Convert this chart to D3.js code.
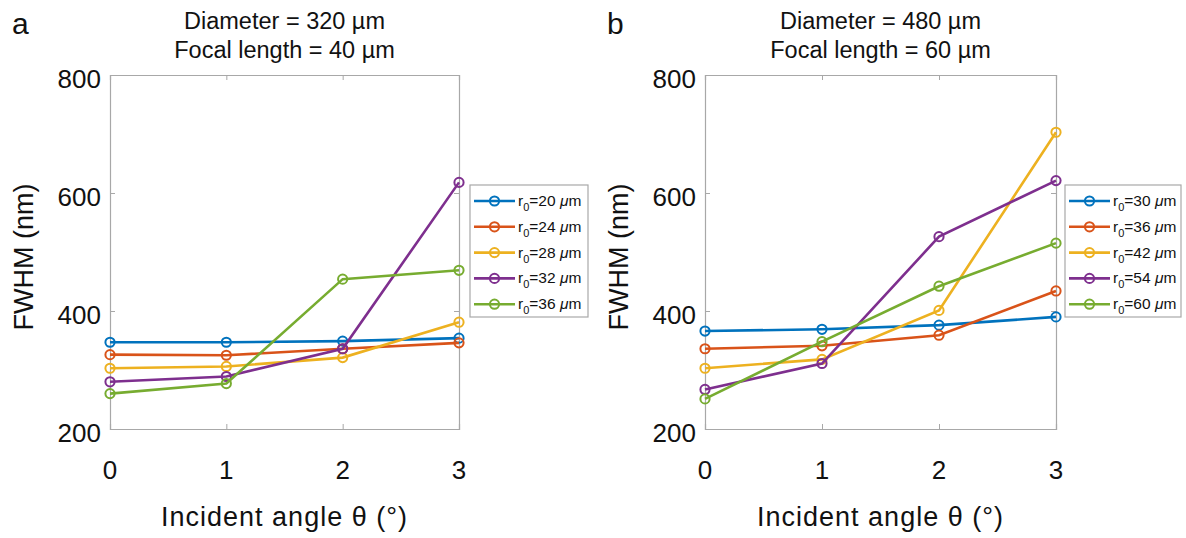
<!DOCTYPE html>
<html>
<head>
<meta charset="utf-8">
<script src="https://cdn.jsdelivr.net/npm/d3@7"></script>
<style>
  html, body { margin: 0; padding: 0; background: #fff; }
  svg { display: block; font-family: "Liberation Sans", Arial, sans-serif; }
</style>
</head>
<body>
<svg id="fig" width="1186" height="538"></svg>
<script>
// Incident angles (degrees)
const angles = [0, 1, 2, 3];
const yTicks = [200, 400, 600, 800];
const xTicks = [0, 1, 2, 3];

// Panel a: Diameter 320 µm, focal length 40 µm
const radiiA = [20, 24, 28, 32, 36];
const fwhmA20 = [347, 347, 349, 354];
const fwhmA24 = [326, 325, 336, 346];
const fwhmA28 = [303, 306, 321, 381];
const fwhmA32 = [280, 289, 336, 618];
const fwhmA36 = [260, 277, 454, 469];

// Panel b: Diameter 480 µm, focal length 60 µm
const radiiB = [30, 36, 42, 54, 60];
const fwhmB30 = [366, 369, 376, 390];
const fwhmB36 = [336, 341, 359, 434];
const fwhmB42 = [303, 318, 401, 703];
const fwhmB54 = [267, 311, 526, 621];
const fwhmB60 = [251, 348, 442, 515];

const colors = ["#0072BD", "#D95319", "#EDB120", "#7E2F8E", "#77AC30"];

const panels = [
  { letter: "a", title1: "Diameter = 320 µm", title2: "Focal length = 40 µm",
    radii: radiiA, series: [fwhmA20, fwhmA24, fwhmA28, fwhmA32, fwhmA36],
    left: 110, right: 459, legendX: 470 },
  { letter: "b", title1: "Diameter = 480 µm", title2: "Focal length = 60 µm",
    radii: radiiB, series: [fwhmB30, fwhmB36, fwhmB42, fwhmB54, fwhmB60],
    left: 705, right: 1056, legendX: 1065 }
];

const svg = d3.select("#fig");
const plotTop = 75, plotBottom = 429;
const axisColor = "#a8a8a8";

panels.forEach(p => {
  const g = svg.append("g");
  const x = d3.scaleLinear().domain([0, 3]).range([p.left, p.right]);
  const y = d3.scaleLinear().domain([200, 800]).range([plotBottom, plotTop]);
  const cx = (p.left + p.right) / 2;

  // axes box with inward ticks (bottom/top, left/right)
  const axB = g.append("g").attr("transform", `translate(0,${plotBottom})`)
    .call(d3.axisBottom(x).tickValues(xTicks).tickSize(-5).tickFormat(""));
  const axT = g.append("g").attr("transform", `translate(0,${plotTop})`)
    .call(d3.axisTop(x).tickValues(xTicks).tickSize(-5).tickFormat(""));
  const axL = g.append("g").attr("transform", `translate(${p.left},0)`)
    .call(d3.axisLeft(y).tickValues(yTicks).tickSize(-5).tickFormat(""));
  const axR = g.append("g").attr("transform", `translate(${p.right},0)`)
    .call(d3.axisRight(y).tickValues(yTicks).tickSize(-5).tickFormat(""));
  [axB, axT, axL, axR].forEach(a => {
    a.selectAll("path.domain").attr("stroke", axisColor).attr("stroke-width", 1.2);
    a.selectAll(".tick line").attr("stroke", axisColor).attr("stroke-width", 1);
  });

  // tick labels
  g.selectAll(".xt").data(xTicks).enter().append("text")
    .attr("x", d => x(d)).attr("y", 479)
    .attr("text-anchor", "middle").attr("font-size", 26).attr("fill", "#111")
    .text(d => d);
  g.selectAll(".yt").data(yTicks).enter().append("text")
    .attr("x", p.left - 9).attr("y", d => y(d) + 13)
    .attr("text-anchor", "end").attr("font-size", 26).attr("fill", "#111")
    .text(d => d);

  // axis labels
  g.append("text").attr("x", cx).attr("y", 526)
    .attr("text-anchor", "middle").attr("font-size", 27)
    .attr("letter-spacing", 1).attr("fill", "#111")
    .text("Incident angle θ (°)");
  g.append("text")
    .attr("transform", `translate(${p.left - 77},${(plotTop + plotBottom) / 2 + 5}) rotate(-90)`)
    .attr("text-anchor", "middle").attr("font-size", 27).attr("fill", "#111")
    .text("FWHM (nm)");

  // titles and panel letter
  g.append("text").attr("x", cx).attr("y", 29)
    .attr("text-anchor", "middle").attr("font-size", 23.5).attr("fill", "#111")
    .text(p.title1);
  g.append("text").attr("x", cx).attr("y", 58)
    .attr("text-anchor", "middle").attr("font-size", 23.5).attr("fill", "#111")
    .text(p.title2);
  g.append("text").attr("x", p.left - 98).attr("y", 34)
    .attr("font-size", 30).attr("fill", "#111")
    .text(p.letter);

  // series lines and markers
  const line = d3.line().x((d, i) => x(angles[i])).y(d => y(d));
  p.series.forEach((vals, k) => {
    g.append("path").datum(vals)
      .attr("d", line).attr("fill", "none")
      .attr("stroke", colors[k]).attr("stroke-width", 2.6);
    g.selectAll(null).data(vals).enter().append("circle")
      .attr("cx", (d, i) => x(angles[i])).attr("cy", d => y(d))
      .attr("r", 4.6).attr("fill", "none")
      .attr("stroke", colors[k]).attr("stroke-width", 2);
  });

  // legend
  const lx = p.legendX, ly = 185, rowH = 25.8;
  const lw = p.letter === "a" ? 118 : 116;
  g.append("rect").attr("x", lx).attr("y", ly)
    .attr("width", lw).attr("height", 132)
    .attr("fill", "#fff").attr("stroke", axisColor).attr("stroke-width", 1.2);
  p.radii.forEach((r, k) => {
    const ry = ly + 16 + k * rowH;
    g.append("line").attr("x1", lx + 4).attr("x2", lx + 45)
      .attr("y1", ry).attr("y2", ry)
      .attr("stroke", colors[k]).attr("stroke-width", 2.6);
    g.append("circle").attr("cx", lx + 24.5).attr("cy", ry).attr("r", 4.6)
      .attr("fill", "none").attr("stroke", colors[k]).attr("stroke-width", 2);
    const t = g.append("text").attr("x", lx + 48).attr("y", ry + 5)
      .attr("font-size", 15.5).attr("fill", "#111");
    t.append("tspan").text("r");
    t.append("tspan").attr("font-size", 11).attr("dy", 5).text("0");
    t.append("tspan").attr("dy", -5).text(`=${r} `);
    t.append("tspan").attr("font-style", "italic").text("μ");
    t.append("tspan").text("m");
  });
});
</script>
</body>
</html>
